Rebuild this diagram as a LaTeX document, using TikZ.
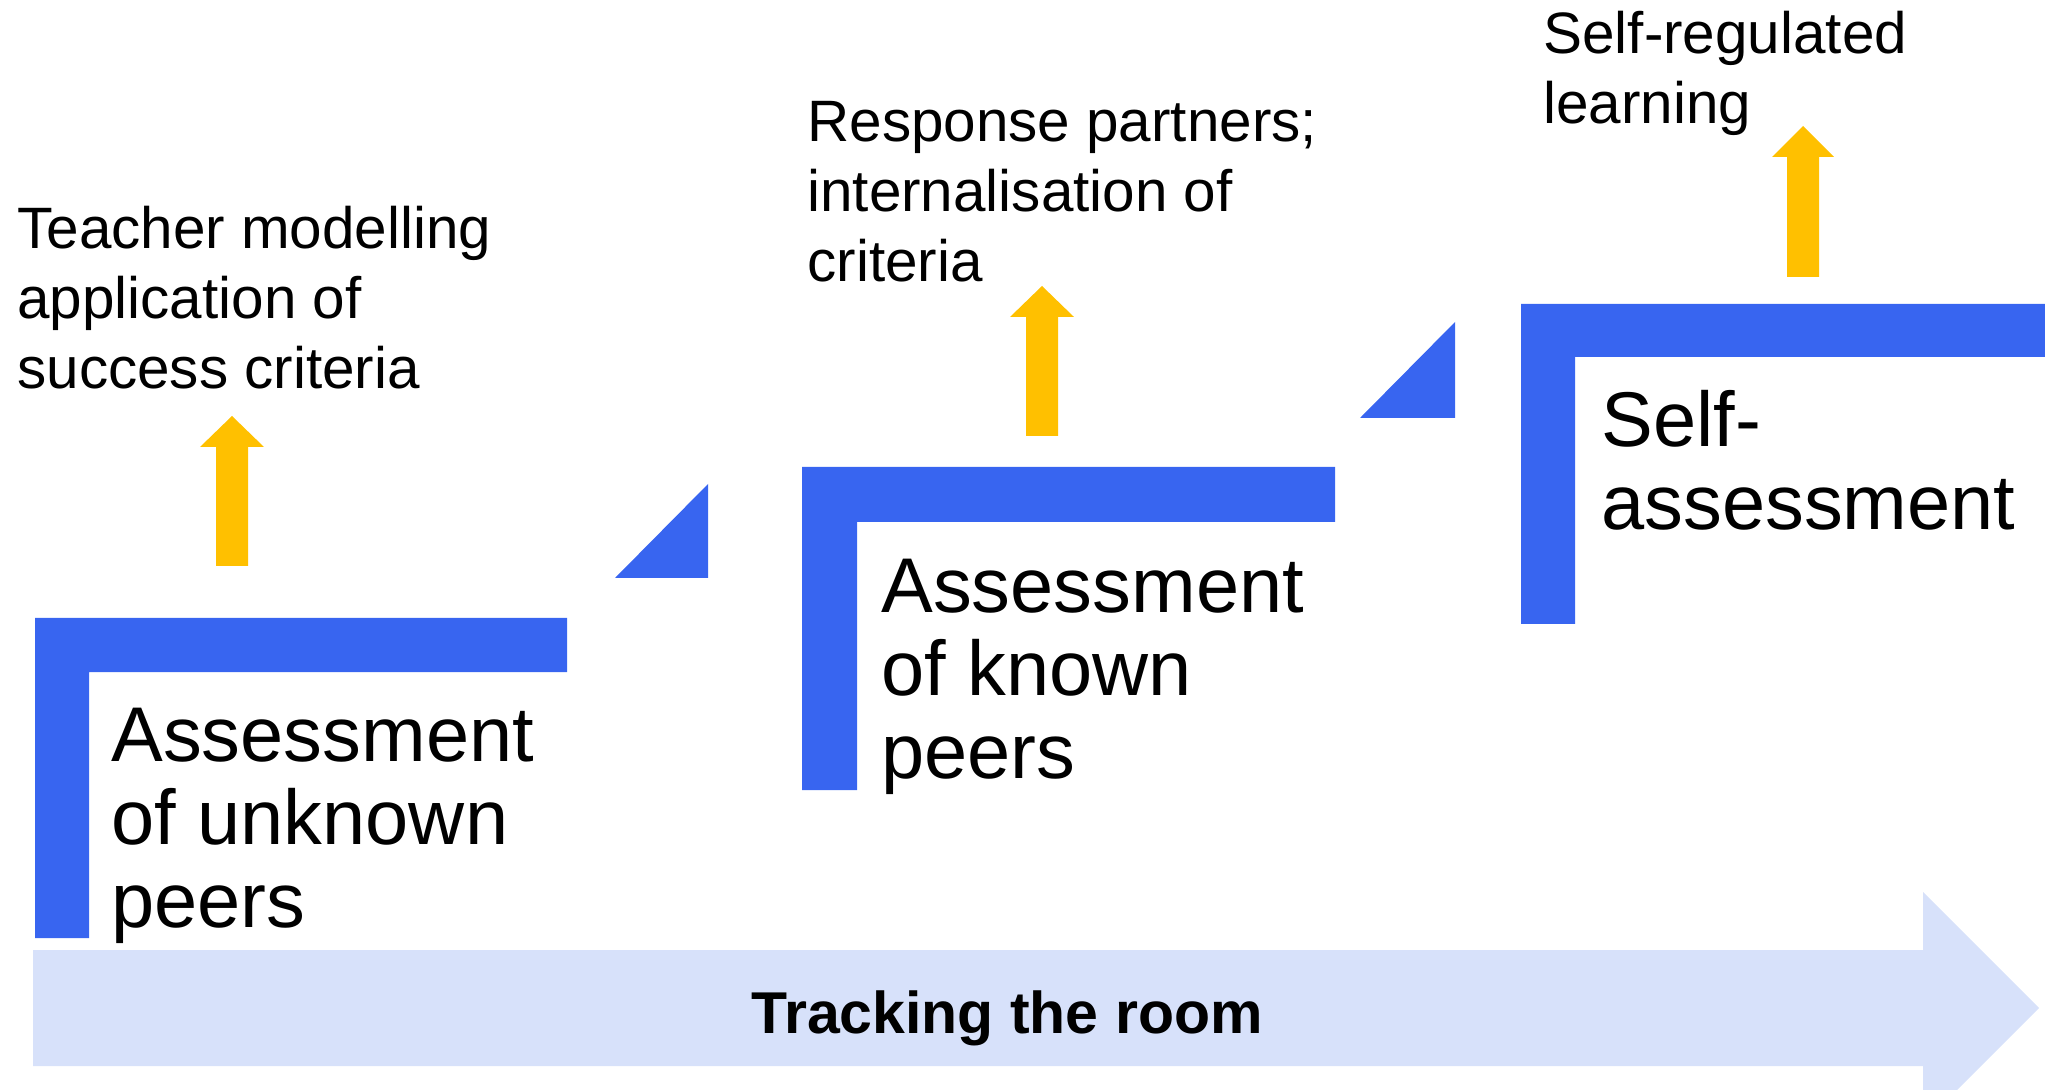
\documentclass[tikz,border=0pt]{standalone}
\usepackage{fontspec}
\setmainfont{Liberation Sans}
\definecolor{stepblue}{RGB}{56,101,240}
\definecolor{gold}{RGB}{255,192,0}
\definecolor{paleblue}{RGB}{215,225,250}
\newcommand\mylines[2]{\vtop{\baselineskip=#1\relax #2}}
\begin{document}
\begin{tikzpicture}[x=0.5pt,y=-0.5pt,
  bigtxt/.style={anchor=base west,inner sep=0pt,font=\fontsize{38.8}{41.5}\selectfont},
  smalltxt/.style={anchor=base west,inner sep=0pt,font=\fontsize{29.2}{35}\selectfont},
  bandtxt/.style={anchor=base,inner sep=0pt,font=\fontsize{29.5}{34}\selectfont\bfseries},
  stepfill/.style={fill=stepblue},
  goldfill/.style={fill=gold},
  bandfill/.style={fill=paleblue}]
\useasboundingbox (0,0) rectangle (2045,1090);
% band arrow
\fill[bandfill] (33,950) -- (1923,950) -- (1923,892) -- (2039,1008) -- (1957,1090) -- (1923,1090) -- (1923,1066) -- (33,1066) -- cycle;
\node[bandtxt] (band) at (1007,1033) {Tracking the room};
% steps
\fill[stepfill] (35,618) -- (567,618) -- (567,672) -- (89,672) -- (89,938) -- (35,938) -- cycle;
\fill[stepfill] (802,467) -- (1335,467) -- (1335,522) -- (857,522) -- (857,790) -- (802,790) -- cycle;
\fill[stepfill] (1521,304) -- (2045,304) -- (2045,357) -- (1575,357) -- (1575,624) -- (1521,624) -- cycle;
% triangles
\fill[stepfill] (615,578) -- (708,578) -- (708,484) -- cycle;
\fill[stepfill] (1360,418) -- (1455,418) -- (1455,322) -- cycle;
% yellow arrows
\fill[goldfill] (216,566) -- (216,447) -- (200,447) -- (232,416) -- (264,447) -- (248,447) -- (248,566) -- cycle;
\fill[goldfill] (1026,436) -- (1026,317) -- (1010,317) -- (1042,286) -- (1074,317) -- (1058,317) -- (1058,436) -- cycle;
\fill[goldfill] (1787,277) -- (1787,157) -- (1772,157) -- (1803,126) -- (1834,157) -- (1819,157) -- (1819,277) -- cycle;
% step texts
\node[bigtxt] (s1) at (111,761) {\mylines{41.5pt}{\hbox{Assessment}\hbox{of unknown}\hbox{peers}}};
\node[bigtxt] (s2) at (881,612) {\mylines{41.5pt}{\hbox{Assessment}\hbox{of known}\hbox{peers}}};
\node[bigtxt] (s3) at (1601,447) {\mylines{41.5pt}{\hbox{Self-}\hbox{assessment}}};
% upper texts
\node[smalltxt] (u1) at (17,249) {\mylines{35pt}{\hbox{Teacher modelling}\hbox{application of}\hbox{success criteria}}};
\node[smalltxt] (u2) at (807,142) {\mylines{35pt}{\hbox{Response partners;}\hbox{internalisation of}\hbox{criteria}}};
\node[smalltxt] (u3) at (1543,54) {\mylines{35pt}{\hbox{Self-regulated}\hbox{learning}}};
\end{tikzpicture}
\end{document}
